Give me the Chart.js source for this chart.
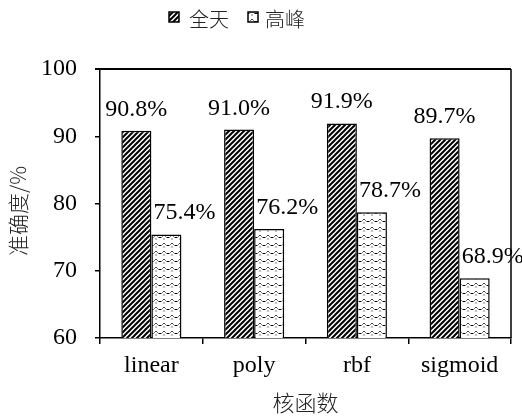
<!DOCTYPE html>
<html>
<head>
<meta charset="utf-8">
<script src="https://cdn.jsdelivr.net/npm/chart.js@4/dist/chart.umd.min.js"></script>
<style>
  html, body { margin: 0; padding: 0; background: #fff; }
  #wrap { width: 522px; height: 418px; }
</style>
</head>
<body>
<div id="wrap"><canvas id="c" width="522" height="418"></canvas></div>
<script>
// Kernel functions and accuracy (%) for the whole day and the peak hours
const kernels = ['linear', 'poly', 'rbf', 'sigmoid'];
const allDay = [90.8, 91.0, 91.9, 89.7];
const peak = [75.4, 76.2, 78.7, 68.9];
const seriesNames = ['全天', '高峰'];
const yMin = 60, yMax = 100, yStep = 10;

const LATIN = '"Liberation Serif", "Times New Roman", serif';
const CJK = '"Noto Sans CJK SC", "Noto Sans", sans-serif';

// Diagonal hatch fill
function hatchPattern() {
  const t = document.createElement('canvas');
  t.width = 5; t.height = 5;
  const g = t.getContext('2d');
  g.fillStyle = '#fff'; g.fillRect(0, 0, 5, 5);
  g.strokeStyle = '#000'; g.lineWidth = 2;
  g.beginPath();
  g.moveTo(-1, 6); g.lineTo(6, -1);
  g.moveTo(-1, 1); g.lineTo(1, -1);
  g.moveTo(4, 6); g.lineTo(6, 4);
  g.stroke();
  return g.createPattern(t, 'repeat');
}

// Small dashed-wave fill
function wavePattern() {
  const t = document.createElement('canvas');
  t.width = 8; t.height = 8;
  const g = t.getContext('2d');
  g.fillStyle = '#fff'; g.fillRect(0, 0, 8, 8);
  g.strokeStyle = '#000'; g.lineWidth = 1;
  g.beginPath();
  g.moveTo(0, 5.5); g.lineTo(1.5, 5.5);
  g.moveTo(2.5, 4.5); g.lineTo(3.5, 3.5); g.lineTo(4.5, 3.5); g.lineTo(5.5, 4.5);
  g.moveTo(6.5, 5.5); g.lineTo(8, 5.5);
  g.stroke();
  g.fillStyle = '#000';
  g.fillRect(3.5, 6.5, 1, 1);
  return g.createPattern(t, 'repeat');
}

// Value labels above the bars
const valueLabels = {
  id: 'valueLabels',
  afterDatasetsDraw(chart) {
    const ctx = chart.ctx;
    ctx.save();
    ctx.font = '24px ' + LATIN;
    ctx.fillStyle = '#000';
    ctx.textAlign = 'center';
    ctx.textBaseline = 'alphabetic';
    chart.data.datasets.forEach((ds, di) => {
      const meta = chart.getDatasetMeta(di);
      meta.data.forEach((bar, i) => {
        const dx = di === 1 ? 18 : 0;
        ctx.fillText(ds.data[i].toFixed(1) + '%', bar.x + dx, bar.y - 15);
      });
    });
    ctx.restore();
  }
};

// Frame, axis titles and legend
const decorations = {
  id: 'decorations',
  afterDraw(chart) {
    const ctx = chart.ctx;
    const a = chart.chartArea;
    ctx.save();
    ctx.strokeStyle = '#000';
    ctx.lineWidth = 2;
    ctx.beginPath();
    ctx.moveTo(a.left - 5, a.top);
    ctx.lineTo(a.right, a.top);
    ctx.stroke();
    ctx.lineWidth = 1.5;
    ctx.beginPath();
    ctx.moveTo(a.right, a.top);
    ctx.lineTo(a.right, a.bottom);
    ctx.stroke();

    // axis titles
    ctx.fillStyle = '#222';
    ctx.textAlign = 'center';
    ctx.textBaseline = 'middle';
    ctx.font = '300 22px ' + CJK;
    ctx.fillText('核函数', (a.left + a.right) / 2, 403);
    ctx.save();
    ctx.translate(18, 211);
    ctx.rotate(-Math.PI / 2);
    ctx.font = '300 21px ' + CJK;
    ctx.fillText('准确度/%', 0, 0);
    ctx.restore();

    // legend
    const boxes = [{ x: 169, tx: 189 }, { x: 248, tx: 265 }];
    chart.data.datasets.forEach((ds, i) => {
      const b = boxes[i];
      ctx.fillStyle = ds.backgroundColor;
      ctx.fillRect(b.x, 12, 10, 10);
      ctx.strokeStyle = '#000';
      ctx.lineWidth = 1.5;
      ctx.strokeRect(b.x, 12, 10, 10);
      ctx.fillStyle = '#222';
      ctx.textAlign = 'left';
      ctx.textBaseline = 'middle';
      ctx.font = '300 20px ' + CJK;
      ctx.fillText(ds.label, b.tx, 19);
    });
    ctx.restore();
  }
};

new Chart(document.getElementById('c'), {
  type: 'bar',
  data: {
    labels: kernels,
    datasets: [
      { label: seriesNames[0], data: allDay, backgroundColor: hatchPattern(),
        borderColor: '#000', borderWidth: 1.5, borderSkipped: false },
      { label: seriesNames[1], data: peak, backgroundColor: wavePattern(),
        borderColor: '#000', borderWidth: 1.5, borderSkipped: false }
    ]
  },
  options: {
    responsive: false,
    animation: false,
    devicePixelRatio: 1,
    layout: { padding: { top: 69, right: 11, left: 0, bottom: 0 } },
    datasets: { bar: { categoryPercentage: 0.585, barPercentage: 1.0 } },
    plugins: { legend: { display: false }, tooltip: { enabled: false } },
    scales: {
      x: {
        grid: { offset: true, drawOnChartArea: false, drawTicks: true, tickLength: 6, color: '#000', lineWidth: 1.5 },
        border: { display: true, color: '#000', width: 1.5 },
        ticks: { color: '#000', font: { family: LATIN, size: 24 }, padding: 7, maxRotation: 0 },
        afterFit(s) { s.height = 80; }
      },
      y: {
        min: yMin, max: yMax,
        grid: { drawOnChartArea: false, drawTicks: true, tickLength: 5, color: '#000', lineWidth: 1.5 },
        border: { display: true, color: '#000', width: 1.5 },
        ticks: { stepSize: yStep, color: '#000', font: { family: LATIN, size: 24 }, padding: 18 },
        afterFit(s) { s.width = 100; }
      }
    }
  },
  plugins: [valueLabels, decorations]
});
</script>
</body>
</html>
